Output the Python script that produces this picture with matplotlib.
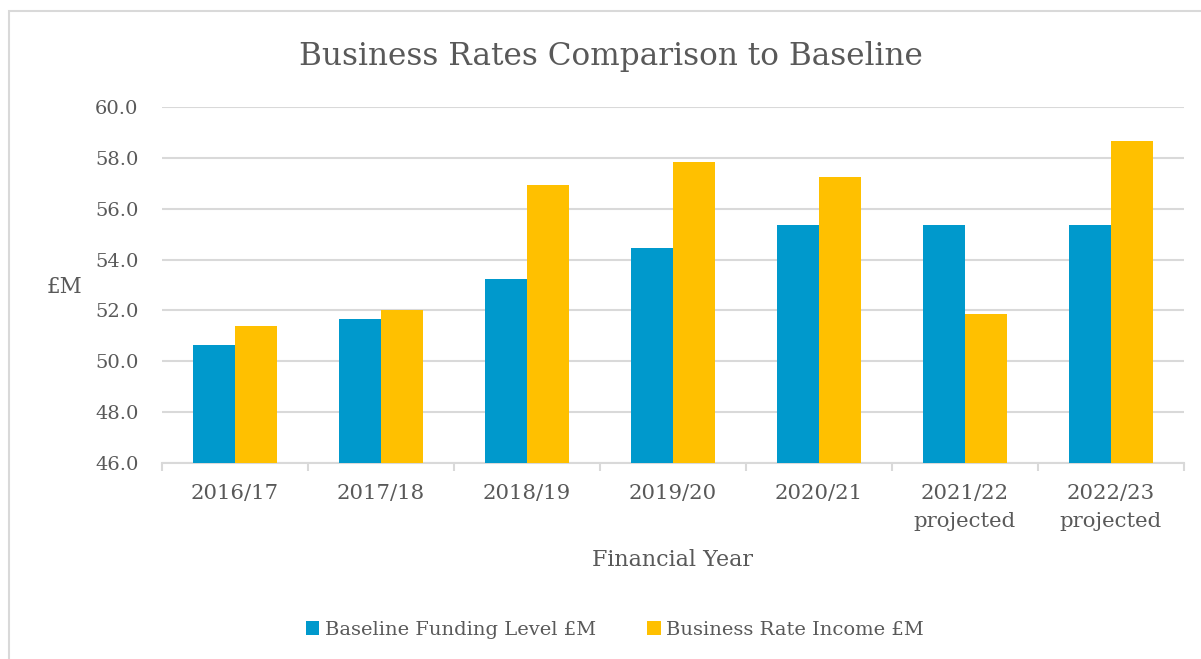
import matplotlib
matplotlib.use('Agg')
import matplotlib.pyplot as plt
from matplotlib.patches import Rectangle
import numpy as np

# data
years = ['2016/17', '2017/18', '2018/19', '2019/20', '2020/21',
         '2021/22\nprojected', '2022/23\nprojected']
baseline = [50.66, 51.68, 53.25, 54.46, 55.36, 55.36, 55.36]
income = [51.37, 52.0, 56.93, 57.83, 57.25, 51.87, 58.68]
yticks = [46.0, 48.0, 50.0, 52.0, 54.0, 56.0, 58.0, 60.0]

blue = '#0099CC'
gold = '#FFC000'
grey_text = '#595959'
grid_col = '#D9D9D9'

plt.rcParams['font.family'] = ['DejaVu Serif']

fig = plt.figure(figsize=(12.01, 6.59), dpi=100, facecolor='white')

# light outer frame of the chart object
fig.patches.append(Rectangle((9 / 1201, -0.05), 1.2, 1.05 - 11 / 659,
                             transform=fig.transFigure, fill=False,
                             edgecolor=grid_col, linewidth=1.5))

ax = fig.add_axes([162 / 1201, 1 - 463 / 659, 1022 / 1201, 356 / 659])

x = np.arange(len(years))
w = 0.287
ax.bar(x - w / 2, baseline, w, color=blue, label='Baseline Funding Level £M', zorder=3)
ax.bar(x + w / 2, income, w, color=gold, label='Business Rate Income £M', zorder=3)

ax.set_xlim(-0.5, len(years) - 0.5)
ax.set_ylim(46, 60)
ax.set_yticks(yticks)
ax.set_yticklabels([f'{v:.1f}' for v in yticks])
ax.set_xticks(x)
ax.set_xticklabels(years, linespacing=1.6)
ax.set_xticks(np.arange(len(years) + 1) - 0.5, minor=True)

ax.grid(axis='y', color=grid_col, linewidth=1.5, zorder=0)
for s in ['top', 'right', 'left']:
    ax.spines[s].set_visible(False)
ax.spines['bottom'].set_color(grid_col)
ax.spines['bottom'].set_linewidth(1.5)

ax.tick_params(axis='y', length=0, pad=17, labelsize=14, labelcolor=grey_text)
ax.tick_params(axis='x', which='major', length=0, pad=15, labelsize=15.3, labelcolor=grey_text)
ax.tick_params(axis='x', which='minor', length=6, width=1.5, color=grid_col)

ax.set_xlabel('Financial Year', fontsize=16, color=grey_text, va='center')
ax.xaxis.set_label_coords(0.5, (463 - 560) / 356)
ax.set_ylabel('£M', fontsize=15.5, color=grey_text, rotation=0, ha='center', va='center')
ax.yaxis.set_label_coords((64 - 162) / 1022, (463 - 287) / 356)

fig.text(611 / 1201, 1 - 56 / 659, 'Business Rates Comparison to Baseline',
         ha='center', va='center', fontsize=22.4, color=grey_text)

fig.legend(loc='center', bbox_to_anchor=(615 / 1201, 1 - 630 / 659), ncol=2,
           frameon=False, fontsize=14, labelcolor=grey_text, handlelength=0.7,
           handleheight=0.7, handletextpad=0.3, columnspacing=2.6)

fig.savefig('out.png', dpi=100, facecolor='white')
